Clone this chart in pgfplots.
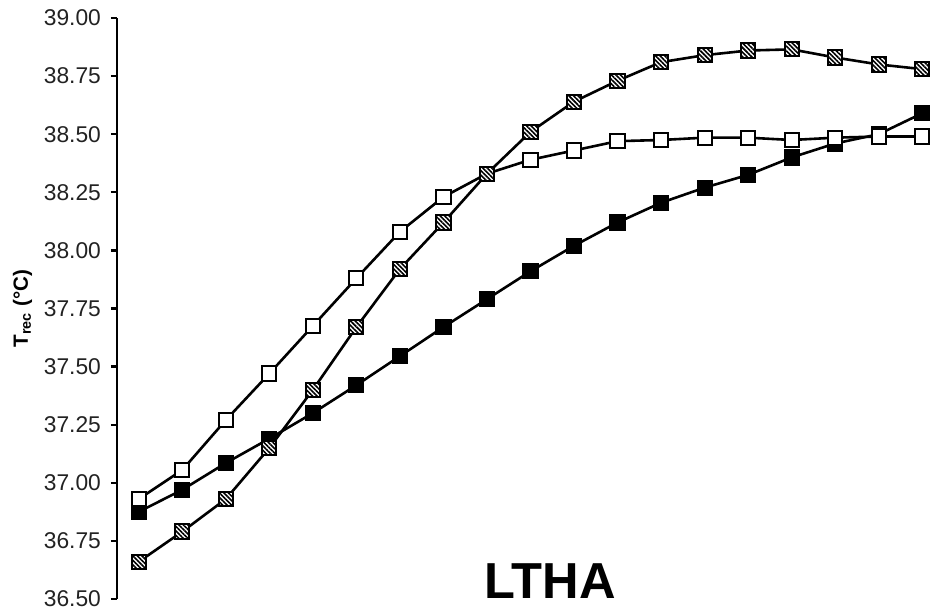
\documentclass[border=0pt]{standalone}
\usepackage{fontspec}
\setmainfont{Liberation Sans}
\usepackage{pgfplots}
\pgfplotsset{compat=1.18}
\usetikzlibrary{patterns.meta}
\definecolor{ticktext}{HTML}{222222}
\begin{document}
\begin{tikzpicture}
\begin{axis}[
  scale only axis,
  width=413.5pt, height=290.5pt,
  xmin=0.5, xmax=19.5,
  ymin=36.5, ymax=39,
  ytick distance=0.25,
  axis y line*=left,
  axis x line=none,
  xtick=\empty,
  axis line style={line width=1.15pt},
  every tick/.style={line width=1.15pt, black},
  major tick length=3pt,
  tick align=outside,
  ytick pos=left,
  /pgf/number format/assume math mode=true,
  yticklabel style={/pgf/number format/.cd, fixed, fixed zerofill, precision=2},
  tick label style={font=\fontsize{11.4}{13}\selectfont, text=ticktext, xshift=-1.5pt},
  ylabel={\textbf{T\textsubscript{rec} (°C)}},
  ylabel style={font=\fontsize{10.3}{12}\selectfont, yshift=-1pt},
  clip=false,
]
\coordinate (SW) at (rel axis cs:0,0);
\coordinate (NE) at (rel axis cs:1,1);
% filled black
\addplot[black, line width=1.3pt, mark=square*, mark size=3.55pt,
  mark options={solid, fill=black, line width=1pt}] coordinates {
(1,36.875) (2,36.97) (3,37.085) (4,37.19) (5,37.30) (6,37.42) (7,37.545)
(8,37.67) (9,37.79) (10,37.91) (11,38.02) (12,38.12) (13,38.205) (14,38.27)
(15,38.325) (16,38.40) (17,38.46) (18,38.50) (19,38.59)};
% open white
\addplot[black, line width=1.3pt, mark=square*, mark size=3.55pt,
  mark options={solid, fill=white, line width=1pt}] coordinates {
(1,36.93) (2,37.055) (3,37.27) (4,37.47) (5,37.675) (6,37.88) (7,38.08)
(8,38.23) (9,38.33) (10,38.39) (11,38.43) (12,38.47) (13,38.475) (14,38.485)
(15,38.485) (16,38.475) (17,38.485) (18,38.49) (19,38.49)};
% hatched
\addplot[black, line width=1.3pt, mark=square*, mark size=3.55pt,
  mark options={solid, fill=white, line width=1pt}] table {
x y
1 36.66
2 36.79
3 36.93
4 37.15
5 37.40
6 37.67
7 37.92
8 38.12
9 38.33
10 38.51
11 38.64
12 38.73
13 38.81
14 38.84
15 38.86
16 38.865
17 38.83
18 38.80
19 38.78
};
\addplot[draw=none, mark=square*, mark size=3.55pt,
  mark options={solid, draw=black, line width=1pt,
  pattern={Lines[angle=-45, distance=1.6pt, line width=0.8pt]}, pattern color=black}] table {
x y
1 36.66
2 36.79
3 36.93
4 37.15
5 37.40
6 37.67
7 37.92
8 38.12
9 38.33
10 38.51
11 38.64
12 38.73
13 38.81
14 38.84
15 38.86
16 38.865
17 38.83
18 38.80
19 38.78
};
\node[anchor=base, font=\fontsize{25.3}{30}\selectfont\bfseries, inner sep=0pt]
  at (rel axis cs:0.5236,0) {LTHA};
\end{axis}
\pgfresetboundingbox
\path[use as bounding box] ([shift={(-58.5pt,-7pt)}]SW) rectangle ([shift={(1.5pt,9pt)}]NE);
\end{tikzpicture}
\end{document}
